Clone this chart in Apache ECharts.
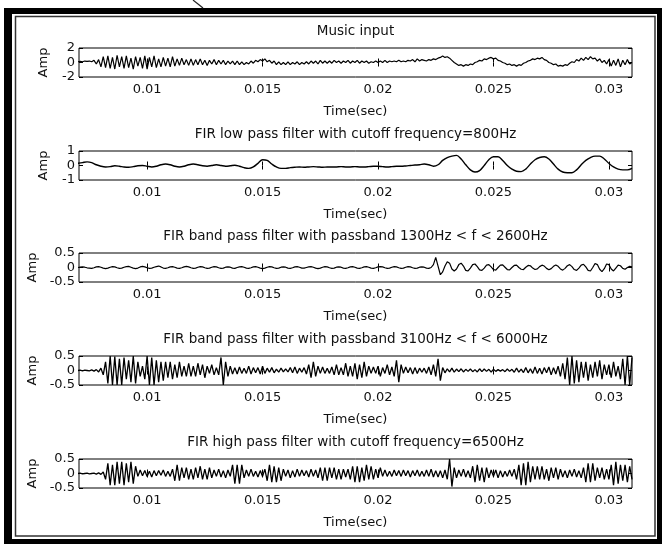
<!DOCTYPE html>
<html>
<head>
<meta charset="utf-8">
<script src="https://cdn.jsdelivr.net/npm/echarts@6/dist/echarts.min.js"></script>
<style>
html,body{margin:0;padding:0;background:#fff;}
#chart{width:664px;height:544px;}
</style>
</head>
<body>
<div id="chart"></div>
<script>
// ---------------- data ----------------
const T_START = 0.007;          // first sample time (s)
const T_MIN = 0.00705;          // axis limits
const T_MAX = 0.031;
const X_TICKS = [0.01, 0.015, 0.02, 0.025, 0.03];

const titles = [
  'Music input',
  'FIR low pass filter with cutoff frequency=800Hz',
  'FIR band pass filter with passband 1300Hz < f < 2600Hz',
  'FIR band pass filter with passband 3100Hz < f < 6000Hz',
  'FIR high pass filter with cutoff frequency=6500Hz'
];
const xName = 'Time(sec)';
const yName = 'Amp';
const yRanges = [[-2, 2, 2], [-1, 1, 1], [-0.5, 0.5, 0.5], [-0.5, 0.5, 0.5], [-0.5, 0.5, 0.5]];
const sampleSteps = [0.0001, 0.0002, 0.0001, 0.0001, 0.0001];

// Music input, step 0.1 ms
const musicInput = [
  0.1, 0.15, 0.1, 0.2, 0.15, 0.2, 0.1, 0.3, -0.2, 0.4,
  -0.6, 0.8, -0.7, 0.9, -0.8, 0.7, -0.9, 1.0, -0.6, 0.8,
  -0.8, 0.9, -0.7, 0.6, -0.9, 0.8, -0.5, 0.7, -0.8, 0.9,
  -0.9, 0.7, -0.6, 0.9, -0.7, 0.5, -0.6, 0.7, -0.5, 0.6,
  -0.6, 0.8, -0.5, 0.5, -0.4, 0.6, -0.3, 0.4, -0.4, 0.5,
  -0.4, 0.4, -0.3, 0.5, -0.3, 0.3, -0.4, 0.3, -0.2, 0.4,
  -0.3, 0.3, -0.2, 0.3, -0.3, 0.2, -0.2, 0.2, -0.3, 0.2,
  -0.3, 0.1, -0.3, 0.0, -0.2, 0.2, -0.1, 0.3, 0.1, 0.4,
  0.2, 0.5, 0.1, 0.3, -0.1, 0.2, -0.3, 0.1, -0.3, 0.0,
  -0.3, 0.1, -0.3, 0.0, -0.2, 0.1, -0.3, 0.0, -0.2, 0.1,
  -0.2, 0.2, -0.1, 0.2, -0.2, 0.3, -0.1, 0.2, -0.1, 0.2,
  -0.1, 0.3, 0.0, 0.2, -0.1, 0.2, 0.0, 0.3, -0.1, 0.2,
  0.0, 0.3, -0.1, 0.2, 0.0, 0.2, -0.1, 0.1, 0.0, 0.2,
  0.0, 0.2, 0.0, 0.3, 0.0, 0.2, 0.1, 0.2, 0.1, 0.3,
  0.1, 0.2, 0.1, 0.3, 0.2, 0.4, 0.1, 0.5, 0.2, 0.4,
  0.3, 0.2, 0.4, 0.3, 0.5, 0.4, 0.6, 0.7, 0.9, 0.7,
  0.8, 0.6, 0.3, 0.0, -0.2, -0.4, -0.3, -0.5, -0.3, -0.4,
  -0.2, -0.3, 0.0, 0.1, 0.3, 0.2, 0.5, 0.4, 0.6, 0.7,
  0.5, 0.6, 0.3, 0.2, 0.0, -0.1, -0.3, -0.2, -0.4, -0.3,
  -0.5, -0.3, -0.4, -0.1, 0.0, 0.2, 0.3, 0.5, 0.4, 0.6,
  0.5, 0.7, 0.4, 0.3, 0.0, -0.1, -0.3, -0.2, -0.5, -0.4,
  -0.5, -0.3, -0.4, -0.1, 0.1, 0.0, 0.4, 0.2, 0.6, 0.3,
  0.7, 0.4, 0.8, 0.5, 0.6, 0.2, 0.5, 0.0, 0.3, -0.2,
  0.4, -0.5, 0.3, -0.4, 0.5, -0.6, 0.3, -0.3, 0.4, -0.2,
  0.0
];

// Low pass output, step 0.2 ms
const lowPass = [
  0.15, 0.2, 0.25, 0.2, 0.05,
  -0.05, -0.1, -0.08, -0.02, -0.05,
  -0.1, -0.12, -0.08, -0.02, 0.0,
  -0.05, -0.1, -0.05, 0.05, 0.1,
  0.05, -0.05, -0.1, -0.05, 0.05,
  0.1, 0.05, -0.02, -0.05, 0.0,
  0.05, 0.0, -0.05, -0.02, 0.02,
  -0.05, -0.15, -0.2, -0.1, 0.15,
  0.4, 0.35, 0.1, -0.1, -0.2,
  -0.2, -0.15, -0.12, -0.1, -0.12,
  -0.1, -0.08, -0.1, -0.12, -0.1,
  -0.1, -0.1, -0.08, -0.1, -0.1,
  -0.08, -0.1, -0.1, -0.08, -0.05,
  -0.05, -0.08, -0.1, -0.08, -0.05,
  -0.05, -0.03, 0.0, 0.03, 0.05,
  0.1, 0.05, -0.05, 0.05, 0.35,
  0.55, 0.65, 0.7, 0.45, 0.05,
  -0.3, -0.45, -0.35, 0.0, 0.4,
  0.6, 0.6, 0.35, 0.0, -0.25,
  -0.4, -0.42, -0.25, 0.1, 0.4,
  0.55, 0.6, 0.45, 0.1, -0.25,
  -0.45, -0.5, -0.5, -0.3, 0.05,
  0.35, 0.55, 0.65, 0.65, 0.45,
  0.15, -0.1, -0.25, -0.3, -0.3,
  -0.2
];

// Band pass 1300-2600 Hz, step 0.1 ms
const bandPassLow = [
  0, 0.01, 0.02, 0.01, -0.01, -0.02, -0.03, -0.01, 0.02, 0.03,
  0.01, -0.02, -0.04, -0.02, 0.01, 0.03, 0.02, -0.01, -0.03, -0.02,
  0.01, 0.03, 0.04, 0.01, -0.02, -0.04, -0.02, 0.02, 0.04, 0.02,
  -0.01, -0.03, -0.02, 0.01, 0.03, 0.05, 0.02, -0.02, -0.03, -0.01,
  0.02, 0.03, 0.01, -0.02, -0.03, -0.01, 0.02, 0.04, 0.02, -0.01,
  -0.03, -0.02, 0.01, 0.03, 0.02, -0.01, -0.03, -0.02, 0.01, 0.03,
  0.02, -0.01, -0.03, -0.02, 0.01, 0.02, 0.01, -0.02, -0.03, 0,
  0.02, 0.03, 0.01, -0.02, -0.03, -0.01, 0.02, 0.03, 0.01, -0.02,
  -0.04, -0.02, 0.01, 0.03, 0.02, -0.01, -0.03, -0.02, 0.01, 0.02,
  0.01, -0.02, -0.03, -0.01, 0.02, 0.03, 0.01, -0.02, -0.02, 0,
  0.02, 0.03, 0.01, -0.02, -0.04, -0.02, 0.01, 0.03, 0.02, -0.01,
  -0.03, -0.02, 0.01, 0.02, 0.01, -0.02, -0.03, -0.01, 0.02, 0.03,
  0.01, -0.02, -0.03, -0.01, 0.02, 0.03, 0.01, -0.02, -0.03, -0.01,
  0.02, 0.03, 0.02, -0.01, -0.03, -0.02, 0.01, 0.03, 0.02, -0.01,
  -0.03, -0.02, 0.01, 0.03, 0.02, -0.01, -0.03, -0.02, 0.01, 0.02,
  0.01, -0.02, -0.03, 0, 0.1, 0.35, 0.05, -0.25, -0.15, 0.05,
  0.2, 0.15, -0.05, -0.12, -0.05, 0.1, 0.15, 0.05, -0.1, -0.12,
  -0.02, 0.1, 0.12, 0.03, -0.08, -0.1, -0.02, 0.08, 0.1, 0.02,
  -0.07, -0.09, 0, 0.08, 0.09, 0.01, -0.07, -0.08, 0, 0.07,
  0.08, 0, -0.06, -0.07, 0.01, 0.07, 0.06, -0.02, -0.07, -0.05,
  0.03, 0.08, 0.05, -0.03, -0.08, -0.04, 0.04, 0.09, 0.04, -0.05,
  -0.09, -0.03, 0.06, 0.1, 0.03, -0.07, -0.1, -0.02, 0.08, 0.11,
  0.02, -0.1, -0.12, 0, 0.14, 0.1, -0.06, -0.14, -0.04, 0.12,
  0.1, -0.05, -0.12, -0.02, 0.08, 0.06, -0.03, -0.06, 0, 0.04,
  0.02
];

// Band pass 3100-6000 Hz, step 0.1 ms
const bandPassHigh = [
  0, 0.01, -0.01, 0.01, 0, -0.01, 0.02, -0.02, 0.03, -0.05,
  0.08, -0.15, 0.3, -0.45, 0.5, -0.5, 0.48, -0.5, 0.4, -0.5,
  0.45, -0.3, 0.35, -0.4, 0.5, -0.45, 0.3, -0.2, 0.15, -0.3,
  0.5, -0.5, 0.45, -0.5, 0.35, -0.4, 0.3, -0.35, 0.3, -0.25,
  0.3, -0.3, 0.2, -0.25, 0.3, -0.2, 0.15, -0.2, 0.25, -0.2,
  0.15, -0.2, 0.25, -0.15, 0.2, -0.25, 0.15, -0.1, 0.2, -0.15,
  0.1, -0.15, 0.45, -0.5, 0.3, -0.2, 0.15, -0.12, 0.1, -0.12,
  0.12, -0.1, 0.08, -0.1, 0.15, -0.12, 0.1, -0.08, 0.1, -0.12,
  0.15, -0.1, 0.08, -0.06, 0.1, -0.08, 0.05, -0.06, 0.08, -0.05,
  0.06, -0.05, 0.1, -0.08, 0.12, -0.1, 0.08, -0.06, 0.1, -0.12,
  0.2, -0.25, 0.3, -0.2, 0.15, -0.1, 0.12, -0.1, 0.08, -0.1,
  0.12, -0.15, 0.2, -0.15, 0.1, -0.15, 0.25, -0.2, 0.15, -0.2,
  0.25, -0.3, 0.2, -0.25, 0.3, -0.2, 0.15, -0.1, 0.12, -0.1,
  0.15, -0.2, 0.1, -0.1, 0.2, -0.15, 0.12, -0.2, 0.35, -0.4,
  0.2, -0.1, 0.12, -0.08, 0.1, -0.12, 0.1, -0.1, 0.08, -0.06,
  0.08, -0.1, 0.12, -0.15, 0.2, -0.2, 0.4, -0.35, 0.1, -0.08,
  0.06, -0.05, 0.08, -0.06, 0.05, -0.04, 0.06, -0.05, 0.04, -0.03,
  0.05, -0.04, 0.03, -0.05, 0.06, -0.04, 0.05, -0.03, 0.04, -0.05,
  0.04, -0.03, 0.03, -0.02, 0.03, -0.04, 0.05, -0.03, 0.04, -0.06,
  0.08, -0.06, 0.05, -0.07, 0.1, -0.08, 0.06, -0.1, 0.12, -0.1,
  0.08, -0.12, 0.1, -0.08, 0.12, -0.15, 0.1, -0.12, 0.15, -0.2,
  0.25, -0.3, 0.45, -0.5, 0.5, -0.45, 0.35, -0.4, 0.3, -0.25,
  0.3, -0.35, 0.2, -0.25, 0.3, -0.2, 0.35, -0.3, 0.2, -0.15,
  0.2, -0.25, 0.3, -0.2, 0.15, -0.3, 0.4, -0.5, 0.5, -0.5,
  0.45
];

// High pass 6500 Hz, step 0.1 ms
const highPass = [
  0, 0.01, -0.01, 0, 0.01, -0.01, 0, 0.01, -0.02, 0.02,
  -0.03, 0.05, -0.2, 0.35, -0.4, 0.3, -0.4, 0.4, -0.35, 0.4,
  -0.4, 0.35, -0.3, 0.4, -0.35, 0.25, -0.1, 0.12, -0.08, 0.1,
  -0.1, 0.08, -0.12, 0.1, -0.08, 0.1, -0.06, 0.12, -0.1, 0.08,
  -0.1, 0.15, -0.25, 0.3, -0.25, 0.2, -0.15, 0.2, -0.2, 0.15,
  -0.2, 0.2, -0.15, 0.25, -0.2, 0.15, -0.2, 0.2, -0.15, 0.12,
  -0.1, 0.15, -0.12, 0.1, -0.15, 0.12, -0.1, 0.3, -0.35, 0.3,
  -0.35, 0.3, -0.15, 0.12, -0.1, 0.15, -0.1, 0.08, -0.12, 0.1,
  -0.1, 0.15, -0.25, 0.3, -0.3, 0.25, -0.3, 0.2, -0.25, 0.15,
  -0.1, 0.12, -0.15, 0.1, -0.12, 0.15, -0.1, 0.12, -0.08, 0.1,
  -0.12, 0.15, -0.1, 0.12, -0.15, 0.2, -0.25, 0.2, -0.25, 0.2,
  -0.15, 0.2, -0.2, 0.15, -0.2, 0.15, -0.12, 0.15, -0.2, 0.25,
  -0.3, 0.25, -0.3, 0.2, -0.25, 0.3, -0.2, 0.25, -0.2, 0.15,
  -0.15, 0.2, -0.1, 0.12, -0.1, 0.08, -0.1, 0.12, -0.08, 0.1,
  -0.1, 0.12, -0.08, 0.1, -0.12, 0.1, -0.08, 0.12, -0.1, 0.08,
  -0.1, 0.12, -0.1, 0.15, -0.12, 0.1, -0.12, 0.1, -0.15, 0.12,
  -0.2, 0.5, -0.45, 0.2, -0.15, 0.12, -0.1, 0.15, -0.12, 0.1,
  -0.15, 0.25, -0.3, 0.3, -0.25, 0.2, -0.3, 0.2, -0.15, 0.12,
  -0.1, 0.12, -0.15, 0.1, -0.12, 0.08, -0.1, 0.12, -0.1, 0.15,
  -0.2, 0.3, -0.4, 0.35, -0.4, 0.4, -0.3, 0.25, -0.2, 0.25,
  -0.2, 0.25, -0.2, 0.15, -0.25, 0.2, -0.15, 0.2, -0.2, 0.15,
  -0.12, 0.1, -0.15, 0.12, -0.1, 0.15, -0.12, 0.1, -0.15, 0.2,
  -0.3, 0.35, -0.3, 0.35, -0.25, 0.2, -0.15, 0.2, -0.2, 0.15,
  -0.2, 0.3, -0.4, 0.4, -0.35, 0.3, -0.25, 0.3, -0.3, 0.25,
  -0.2
];

const signals = [musicInput, lowPass, bandPassLow, bandPassHigh, highPass];

// ---------------- layout ----------------
const FONT = '"DejaVu Sans", "Liberation Sans", Arial, sans-serif';
const GRID_LEFT = 79, GRID_RIGHT = 32, GRID_H = 29;
const gridTops = [48, 151, 253, 356, 459];
const smoothFlags = [false, 0.35, false, false, false];
const lineWidths = [1.2, 1.4, 1.2, 1.3, 1.3];

const chart = echarts.init(document.getElementById('chart'), null, {renderer: 'canvas'});

const grids = [], xAxes = [], yAxes = [], series = [], graphics = [];
const tickStyle = {color: '#000', width: 1};
const labelStyle = {color: '#111', fontFamily: FONT, fontSize: 13};

for (let i = 0; i < 5; i++) {
  grids.push({left: GRID_LEFT, right: GRID_RIGHT, top: gridTops[i], height: GRID_H,
    show: true, borderColor: '#000', borderWidth: 1, backgroundColor: '#fff', containLabel: false});
  xAxes.push({
    gridIndex: i, type: 'value', position: 'bottom', min: T_MIN, max: T_MAX,
    name: xName, nameLocation: 'middle', nameGap: 28,
    nameTextStyle: {color: '#111', fontFamily: FONT, fontSize: 13},
    axisLine: {show: false},
    axisTick: {show: true, inside: true, length: 4, customValues: X_TICKS, lineStyle: tickStyle},
    axisLabel: {show: true, margin: 6, customValues: X_TICKS, ...labelStyle,
      formatter: v => String(+v.toFixed(4))},
    splitLine: {show: false}
  });
  xAxes.push({
    gridIndex: i, type: 'value', position: 'top', min: T_MIN, max: T_MAX,
    axisLine: {show: false},
    axisTick: {show: true, inside: true, length: 4, customValues: X_TICKS, lineStyle: tickStyle},
    axisLabel: {show: false}, splitLine: {show: false}
  });
  const [ymin, ymax, yint] = yRanges[i];
  yAxes.push({
    gridIndex: i, type: 'value', position: 'left', min: ymin, max: ymax, interval: yint,
    name: yName, nameLocation: 'middle', nameGap: 29, nameRotate: 90,
    nameTextStyle: {color: '#111', fontFamily: FONT, fontSize: 13},
    axisLine: {show: false},
    axisTick: {show: true, inside: true, length: 4, lineStyle: tickStyle},
    axisLabel: {show: true, margin: 4, showMinLabel: true, showMaxLabel: true, ...labelStyle, lineHeight: 11},
    splitLine: {show: false}
  });
  yAxes.push({
    gridIndex: i, type: 'value', position: 'right', min: ymin, max: ymax, interval: yint,
    axisLine: {show: false},
    axisTick: {show: true, inside: true, length: 4, lineStyle: tickStyle},
    axisLabel: {show: false}, splitLine: {show: false}
  });
  const dt = sampleSteps[i];
  series.push({
    type: 'line', xAxisIndex: 2 * i, yAxisIndex: 2 * i,
    data: signals[i].map((v, k) => [T_START + k * dt, v]),
    showSymbol: false, symbol: 'none', smooth: smoothFlags[i],
    lineStyle: {color: '#000', width: lineWidths[i]}, clip: true, animation: false
  });
  graphics.push({
    type: 'text', x: GRID_LEFT + (664 - GRID_LEFT - GRID_RIGHT) / 2, y: gridTops[i] - 17,
    style: {text: titles[i], align: 'center', verticalAlign: 'middle',
      font: '13.5px ' + FONT, fill: '#111'}, z: 10
  });
}

// picture frame
graphics.push(
  {type: 'rect', shape: {x: 4, y: 8, width: 658, height: 6}, style: {fill: '#000'}, z: 20},
  {type: 'rect', shape: {x: 4, y: 539, width: 658, height: 5}, style: {fill: '#000'}, z: 20},
  {type: 'rect', shape: {x: 4, y: 8, width: 8, height: 536}, style: {fill: '#000'}, z: 20},
  {type: 'rect', shape: {x: 657, y: 8, width: 5, height: 536}, style: {fill: '#000'}, z: 20},
  {type: 'rect', shape: {x: 15.5, y: 16.5, width: 639.5, height: 519.5},
    style: {fill: null, stroke: '#333', lineWidth: 1.5}, z: 20},
  {type: 'line', shape: {x1: 193, y1: 0, x2: 203, y2: 8}, style: {stroke: '#222', lineWidth: 1.2}, z: 20}
);

chart.setOption({
  backgroundColor: '#fff',
  animation: false,
  grid: grids,
  xAxis: xAxes,
  yAxis: yAxes,
  series: series,
  graphic: graphics
});
</script>
</body>
</html>
